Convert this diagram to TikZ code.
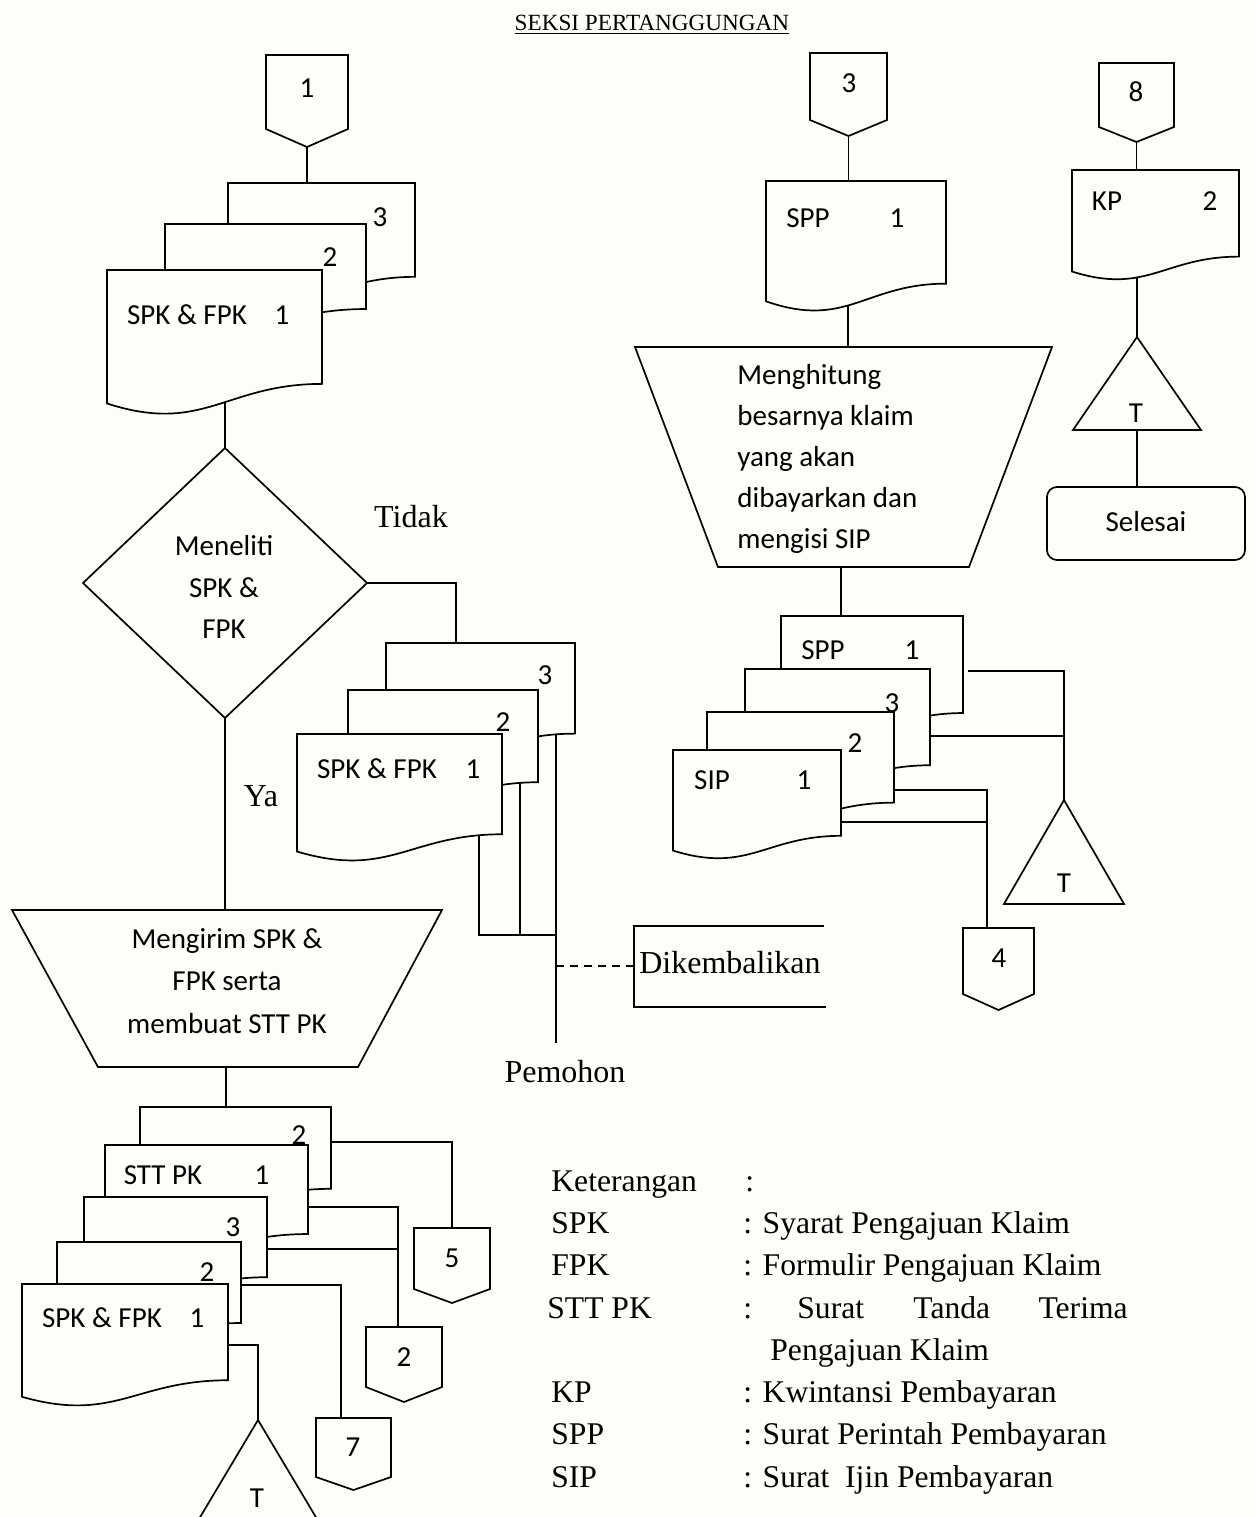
\documentclass[tikz,border=0pt]{standalone}
\usepackage{fontspec}
\setmainfont{Liberation Serif}
\newfontfamily\calfont{Carlito}
\usetikzlibrary{calc}
\pgfdeclarelayer{back}
\pgfsetlayers{back,main}
\definecolor{paper}{RGB}{253,253,250}

% document symbol: name, left x, top y, width, height
\newcommand\docshape[5]{%
  \draw[shp] (#2,#3) coordinate (#1-nw) -- ({#2+#4},#3) coordinate (#1-ne)
    -- ({#2+#4},{#3+0.802*#5}) coordinate (#1-se)
    .. controls ({#2+0.55*#4},{#3+0.802*#5}) and ({#2+0.45*#4},{#3+1.16*#5})
    .. (#2,{#3+0.94*#5}) coordinate (#1-sw) -- cycle;
  \coordinate (#1) at ({#2+0.5*#4},{#3+0.5*#5});
}
% off-page connector: name, left x, right x, top y, side y, tip y
\newcommand\offpg[6]{%
  \draw[shp] (#2,#4) -- (#3,#4) -- (#3,#5) -- ({(#2+#3)/2},#6) coordinate (#1-s)
    -- (#2,#5) -- cycle;
  \coordinate (#1-n) at ({(#2+#3)/2},#4);
}
% file (merge) triangle: name, apex x, apex y, half width, height
\newcommand\mergetri[5]{%
  \draw[shp] (#2,#3) coordinate (#1-n) -- ({#2+#4},{#3+#5}) -- ({#2-#4},{#3+#5}) -- cycle;
  \coordinate (#1-b) at (#2,{#3+#5});
}

\begin{document}
\begin{tikzpicture}[x=0.5pt,y=-0.5pt,
  shp/.style={draw=black, line width=0.85pt, fill=paper, line join=miter},
  ln/.style={draw=black, line width=0.85pt},
  cal/.style={font=\calfont\fontsize{14.5}{20.75}\selectfont, inner sep=0pt},
  tms/.style={font=\fontsize{16}{20}\selectfont, inner sep=0pt},
  lgd/.style={font=\fontsize{15.8}{20}\selectfont, inner sep=0pt, anchor=base west},
]
\useasboundingbox (0,0) rectangle (1256,1517);
\begin{pgfonlayer}{back}
  \fill[paper] (0,0) rectangle (1256,1517);
\end{pgfonlayer}

% ---------- left column ----------
\offpg{off1}{266}{348}{55}{129}{147}
\docshape{A3}{228}{183}{187}{117}
\docshape{A2}{165}{224}{201}{106}
\docshape{A1}{107}{270}{215}{142}
\draw[shp] (225,448) coordinate (dia-n) -- (367,583) coordinate (dia-e)
  -- (225,718) coordinate (dia-s) -- (83,583) coordinate (dia-w) -- cycle;

% returned copies
\docshape{B3}{386}{643}{189}{113}
\docshape{B2}{348}{690}{190}{115}
\docshape{B1}{297}{734}{205}{125}
\draw[ln] (824,926) -- (634,926) -- (634,1007) -- (826,1007);
\coordinate (dik-w) at (634,966);

% sending step
\draw[shp] (12,910) -- (442,910) -- (358,1067) -- (98,1067) -- cycle;
\coordinate (trA-n) at (226,910);
\coordinate (trA-s) at (226,1067);

% receipt and copies
\docshape{C5}{140}{1107}{191}{102}
\docshape{C4}{105}{1145}{203}{111}
\docshape{C3}{84}{1197}{183}{100}
\docshape{C2}{57}{1242}{184}{101}
\docshape{C1}{22}{1284}{206}{120}
\offpg{off5}{414}{490}{1228}{1289}{1303}
\offpg{off2}{366}{442}{1327}{1387}{1402}
\offpg{off7}{316}{391}{1418}{1477}{1490}
\begin{scope}
  \clip (0,0) rectangle (1256,1517);
  \mergetri{triL}{258}{1420}{62}{104}
\end{scope}

% ---------- middle column ----------
\offpg{off3}{810}{887}{53}{120}{136}
\docshape{D}{766}{181}{180}{128}
\draw[shp] (635,347) -- (1052,347) -- (969,567) -- (718,567) -- cycle;
\coordinate (trB-n) at (848,347);
\coordinate (trB-s) at (841,567);
\docshape{E4}{781}{616}{182}{121}
\docshape{E3}{745}{669}{185}{120}
\docshape{E2}{707}{712}{187}{113}
\docshape{E1}{673}{750}{168}{107}
\mergetri{triR}{1064}{800}{60}{104}
\offpg{off4}{963}{1034}{928}{994}{1010}

% ---------- right column ----------
\offpg{off8}{1099}{1174}{63}{127}{142}
\docshape{F}{1072}{170}{167}{108}
\mergetri{triF}{1137}{337}{64}{93}
\draw[shp, rounded corners=5pt] (1047,487) rectangle (1245,560);
\coordinate (sel-in) at (1137,487);

% ---------- flow lines ----------
\begin{pgfonlayer}{back}
  \draw[ln] (off1-s) -- (off1-s |- A3-nw);
  \draw[ln] (dia-n |- A1) -- (dia-n);
  \coordinate (B3-in) at (456,643);
  \draw[ln] (dia-e) -| (B3-in);
  \coordinate (B1-out) at (479,825);
  \coordinate (B2-out) at (520,775);
  \coordinate (B3-out) at (556,725);
  \coordinate (jB) at (556,935);
  \coordinate (pem-end) at (556,1043);
  \coordinate (dash-a) at (556,966);
  \draw[ln] (B1-out) |- (jB);
  \draw[ln] (B2-out) -- (B2-out |- jB);
  \draw[ln] (B3-out) -- (pem-end);
  \draw[ln, dash pattern=on 4pt off 3pt] (dash-a) -- (dik-w);
  \draw[ln] (dia-s) -- (dia-s |- trA-n);
  \draw[ln] (trA-s) -- (trA-s |- C5-nw);

  \coordinate (C5-tap) at (331,1142);
  \coordinate (C4-tap) at (308,1207);
  \coordinate (C3-tap) at (267,1249);
  \coordinate (C2-tap) at (241,1285);
  \coordinate (C1-tap) at (228,1345);
  \coordinate (off2-in) at (398,1327);
  \coordinate (off7-in) at (341,1418);
  \draw[ln] (C5-tap) -| (off5-n);
  \draw[ln] (C4-tap) -| (off2-in);
  \draw[ln] (C3-tap) -- (C3-tap -| off2-in);
  \draw[ln] (C2-tap) -| (off7-in);
  \draw[ln] (C1-tap) -| (triL-n);

  \draw[ln] (off3-s) -- (off3-s |- D-nw);
  \draw[ln] (trB-n |- D) -- (trB-n);
  \draw[ln] (trB-s) -- (trB-s |- E4-nw);
  \coordinate (E4-tap) at (968,671);
  \coordinate (E3-tap) at (930,736);
  \coordinate (E2-tap) at (894,790);
  \coordinate (E1-tap) at (841,822);
  \coordinate (off4-in) at (987,928);
  \draw[ln] (E4-tap) -| (triR-n);
  \draw[ln] (E3-tap) -- (E3-tap -| triR-n);
  \draw[ln] (E2-tap) -| (off4-in);
  \draw[ln] (E1-tap) -- (E1-tap -| off4-in);

  \draw[ln] (off8-s) -- (off8-s |- F-nw);
  \draw[ln] (triF-n |- F) -- (triF-n);
  \draw[ln] (triF-b) -- (sel-in);
\end{pgfonlayer}

% ---------- texts ----------
\node[font=\fontsize{11.6}{14}\selectfont, inner sep=0pt, anchor=base] (title) at (652,30)
  {\underline{SEKSI PERTANGGUNGAN}};

\node[cal] (l-off1) at (307,88) {1};
\node[cal] (l-A3) at (380,217) {3};
\node[cal] (l-A2) at (330,257) {2};
\node[cal] (l-A1a) at (187,315) {SPK \& FPK};
\node[cal] (l-A1b) at (282,315) {1};
\node[cal, align=center] (l-dia) at (224,587) {Meneliti\\SPK \&\\FPK};
\node[tms] (tidak) at (411,517) {Tidak};
\node[tms] (ya) at (261,796) {Ya};
\node[cal] (l-B3) at (545,675) {3};
\node[cal] (l-B2) at (503,722) {2};
\node[cal] (l-B1a) at (377,769) {SPK \& FPK};
\node[cal] (l-B1b) at (473,769) {1};
\node[tms] (dik) at (730,963) {Dikembalikan};
\node[tms] (pemohon) at (565,1072) {Pemohon};
\node[cal, align=center, font=\calfont\fontsize{14.5}{21.25}\selectfont] (l-trA) at (227,981)
  {Mengirim SPK \&\\FPK serta\\membuat STT PK};

\node[cal] (l-C5) at (299,1135) {2};
\node[cal] (l-C4a) at (163,1175) {STT PK};
\node[cal] (l-C4b) at (262,1175) {1};
\node[cal] (l-C3) at (233,1227) {3};
\node[cal] (l-C2) at (207,1272) {2};
\node[cal] (l-C1a) at (102,1318) {SPK \& FPK};
\node[cal] (l-C1b) at (197,1318) {1};
\node[cal] (l-off5) at (452,1258) {5};
\node[cal] (l-off2) at (404,1357) {2};
\node[cal] (l-off7) at (353,1447) {7};
\node[cal] (l-triL) at (257,1498) {T};

\node[cal] (l-off3) at (849,83) {3};
\node[cal] (l-Da) at (808,218) {SPP};
\node[cal] (l-Db) at (897,218) {1};
\node[cal, align=left, anchor=west, font=\calfont\fontsize{14.5}{20.5}\selectfont] (l-trB) at (737,459)
  {Menghitung\\besarnya klaim\\yang akan\\dibayarkan dan\\mengisi SIP};
\node[cal] (l-E4a) at (823,650) {SPP};
\node[cal] (l-E4b) at (912,650) {1};
\node[cal] (l-E3) at (892,703) {3};
\node[cal] (l-E2) at (855,743) {2};
\node[cal] (l-E1a) at (712,780) {SIP};
\node[cal] (l-E1b) at (804,780) {1};
\node[cal] (l-triR) at (1064,883) {T};
\node[cal] (l-off4) at (999,958) {4};

\node[cal] (l-off8) at (1136,92) {8};
\node[cal] (l-Fa) at (1107,201) {KP};
\node[cal] (l-Fb) at (1210,201) {2};
\node[cal] (l-triF) at (1136,413) {T};
\node[cal] (l-sel) at (1146,522) {Selesai};

% ---------- legend ----------
\node[lgd] (k0a) at (551,1191) {Keterangan};
\node[lgd] (k0b) at (745,1191) {:};
\node[lgd] (k1a) at (551,1233) {SPK};
\node[lgd] (k1b) at (743,1233) {: Syarat Pengajuan Klaim};
\node[lgd] (k2a) at (551,1275) {FPK};
\node[lgd] (k2b) at (743,1275) {: Formulir Pengajuan Klaim};
\node[lgd] (k3a) at (547,1318) {STT PK};
\node[lgd] (k3b) at (743,1318) {:};
\node[lgd] (k3c) at (797,1318) {Surat};
\node[lgd] (k3d) at (913,1318) {Tanda};
\node[lgd, anchor=base east] (k3e) at (1128,1318) {Terima};
\node[lgd] (k4) at (770,1360) {Pengajuan Klaim};
\node[lgd] (k5a) at (551,1402) {KP};
\node[lgd] (k5b) at (743,1402) {: Kwintansi Pembayaran};
\node[lgd] (k6a) at (551,1444) {SPP};
\node[lgd] (k6b) at (743,1444) {: Surat Perintah Pembayaran};
\node[lgd] (k7a) at (551,1487) {SIP};
\node[lgd] (k7b) at (743,1487) {: Surat\ \ Ijin Pembayaran};
\end{tikzpicture}
\end{document}
